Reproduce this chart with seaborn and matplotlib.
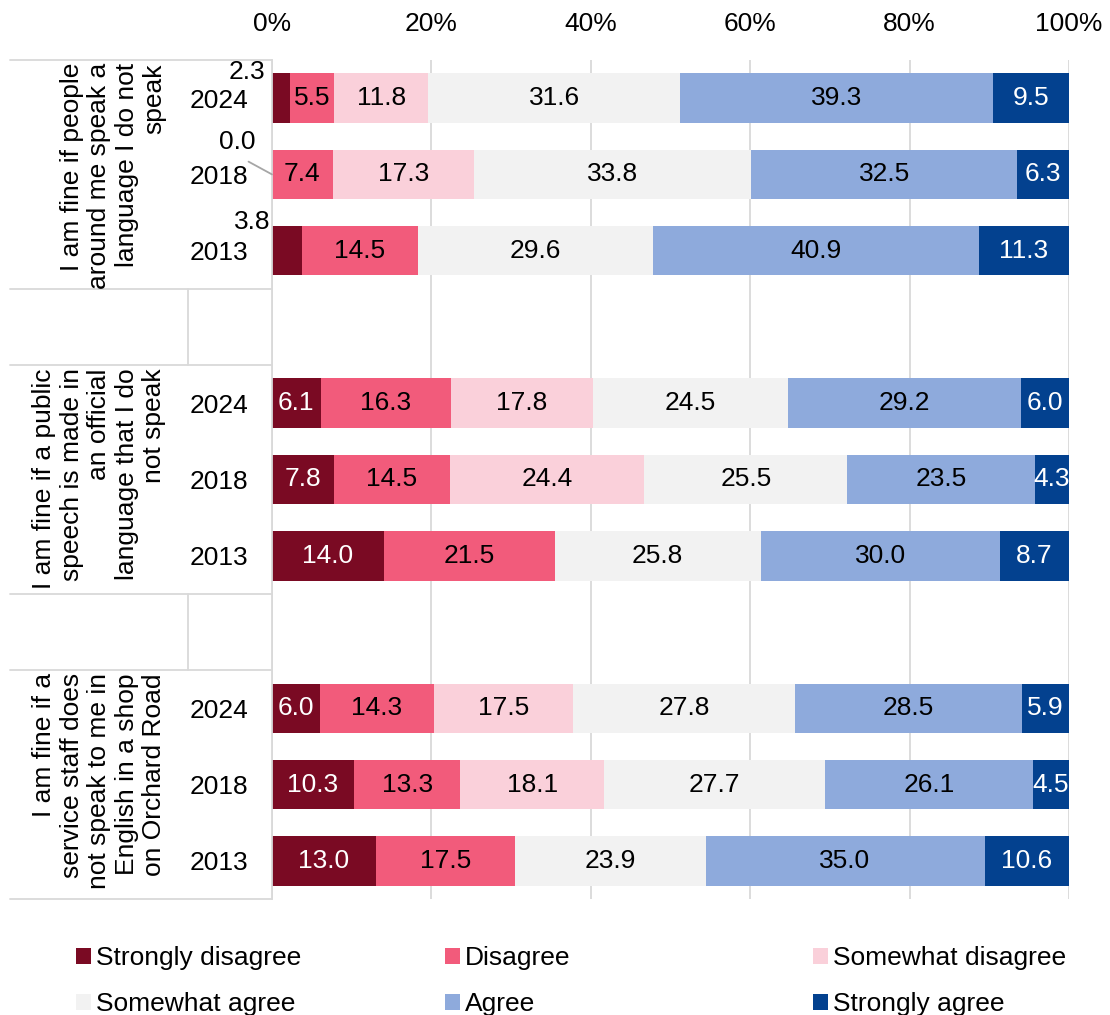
import numpy as np
import pandas as pd
import matplotlib
matplotlib.use("Agg")
import matplotlib.pyplot as plt
import matplotlib.transforms as mtransforms
from matplotlib.patches import Patch
import seaborn as sns

# dados
categories = ["Strongly disagree", "Disagree", "Somewhat disagree",
              "Somewhat agree", "Agree", "Strongly agree"]
colors = ["#7A0A23", "#F25B7B", "#FAD0DA", "#F2F2F2", "#8EAADC", "#03418F"]
text_colors = ["white", "black", "black", "black", "black", "white"]

statements = [
    "I am fine if people\naround me speak a\nlanguage I do not\nspeak",
    "I am fine if a public\nspeech is made in\nan official\nlanguage that I do\nnot speak",
    "I am fine if a\nservice staff does\nnot speak to me in\nEnglish in a shop\non Orchard Road",
]
years = ["2024", "2018", "2013"]

strongly_disagree = [2.3, 0.0, 3.8, 6.1, 7.8, 14.0, 6.0, 10.3, 13.0]
disagree = [5.5, 7.4, 14.5, 16.3, 14.5, 21.5, 14.3, 13.3, 17.5]
somewhat_disagree = [11.8, 17.3, np.nan, 17.8, 24.4, np.nan, 17.5, 18.1, np.nan]
somewhat_agree = [31.6, 33.8, 29.6, 24.5, 25.5, 25.8, 27.8, 27.7, 23.9]
agree = [39.3, 32.5, 40.9, 29.2, 23.5, 30.0, 28.5, 26.1, 35.0]
strongly_agree = [9.5, 6.3, 11.3, 6.0, 4.3, 8.7, 5.9, 4.5, 10.6]

FS = 19

sns.set_theme(style="white")
plt.rcParams["font.family"] = ["Liberation Sans", "DejaVu Sans"]
plt.rcParams["text.color"] = "black"

# tabela: uma linha por barra, com posição (deixa um espaço entre grupos)
vals = np.array([strongly_disagree, disagree, somewhat_disagree,
                 somewhat_agree, agree, strongly_agree]).T
shares = np.nan_to_num(vals) / np.nansum(vals, axis=1, keepdims=True) * 100
cum = shares.cumsum(axis=1)

df = pd.DataFrame({"statement": np.repeat(range(3), 3), "year": years * 3})
df["pos"] = df["statement"] * 4 + np.tile(range(3), 3)
for k in range(6):
    df[f"cum{k}"] = cum[:, k]

fig = plt.figure(figsize=(11.1, 10.15), dpi=100)
ax = fig.add_axes([272 / 1110, 1 - 899 / 1015, 797 / 1110, 839 / 1015])

# barras empilhadas: desenha os acumulados do maior para o menor
for k in reversed(range(6)):
    sns.barplot(data=df, x=f"cum{k}", y="pos", orient="h", native_scale=True,
                color=colors[k], saturation=1, width=0.65, linewidth=0,
                errorbar=None, ax=ax)

# rótulos dos valores
for r in range(len(df)):
    y = df["pos"].iloc[r]
    for k in range(6):
        v = vals[r, k]
        if np.isnan(v):
            continue
        if r < 3 and k == 0:
            continue  # tratados fora da barra
        mid = cum[r, k] - shares[r, k] / 2
        ax.text(mid, y, f"{v:.1f}", ha="center", va="center",
                color=text_colors[k], fontsize=FS)

# rótulos pequenos do primeiro grupo, fora da barra
ax.text(-0.9, 0 - 0.34, f"{strongly_disagree[0]:.1f}", ha="right", va="center",
        fontsize=FS, clip_on=False)
ax.text(-0.25, 2 - 0.38, f"{strongly_disagree[2]:.1f}", ha="right", va="center",
        fontsize=FS, clip_on=False)
ax.annotate(f"{strongly_disagree[1]:.1f}", xy=(0, 1), xytext=(-2.1, 1 - 0.42),
            ha="right", va="center", fontsize=FS, annotation_clip=False,
            arrowprops=dict(arrowstyle="-", color="#A6A6A6", lw=1.3,
                            relpos=(0.45, 0), shrinkA=6, shrinkB=0))

# eixos
ax.set_xlim(0, 100)
ax.set_ylim(10.5, -0.5)
ax.xaxis.tick_top()
ax.set_xticks(range(0, 101, 20))
ax.set_xticklabels([f"{t}%" for t in range(0, 101, 20)], fontsize=FS)
ax.set_yticks(df["pos"])
ax.set_yticklabels(df["year"], fontsize=FS)
ax.tick_params(axis="x", length=0, pad=17, colors="black")
ax.tick_params(axis="y", length=0, pad=17, colors="black")
ax.set_xlabel("")
ax.set_ylabel("")
ax.grid(axis="x", color="#D9D9D9", lw=1.3)
ax.grid(axis="y", visible=False)
ax.set_axisbelow(True)
for s in ["top", "right", "bottom"]:
    ax.spines[s].set_visible(False)
ax.spines["left"].set_color("#D9D9D9")
ax.spines["left"].set_linewidth(1.3)

# estrutura da categoria em dois níveis
trans = mtransforms.blended_transform_factory(ax.transAxes, ax.transData)
for yb in [-0.5, 2.5, 3.5, 6.5, 7.5, 10.5]:
    ax.plot([-0.329, 0], [yb, yb], transform=trans, color="#D9D9D9", lw=1.3,
            clip_on=False)
for yb in [2.5, 6.5]:
    ax.plot([-0.105, -0.105], [yb, yb + 1], transform=trans, color="#D9D9D9",
            lw=1.3, clip_on=False)
for g, txt in enumerate(statements):
    ax.text(-0.133, g * 4 - 0.46, txt, transform=trans, rotation=90,
            ha="right", va="top", multialignment="right", fontsize=FS,
            linespacing=1.18)

# legenda em três colunas
legend_cols = [[0, 3], [1, 4], [2, 5]]
col_x = [76, 445, 813]
for cols, x0 in zip(legend_cols, col_x):
    handles = [Patch(facecolor=colors[k], edgecolor="none") for k in cols]
    fig.legend(handles, [categories[k] for k in cols], loc="upper left",
               bbox_to_anchor=(x0 / 1110, 1 - 946 / 1015), frameon=False,
               fontsize=FS, handlelength=0.55, handleheight=0.55,
               handletextpad=0.2, labelspacing=0.85, borderpad=0,
               borderaxespad=0)

fig.savefig("out.png", dpi=100)
